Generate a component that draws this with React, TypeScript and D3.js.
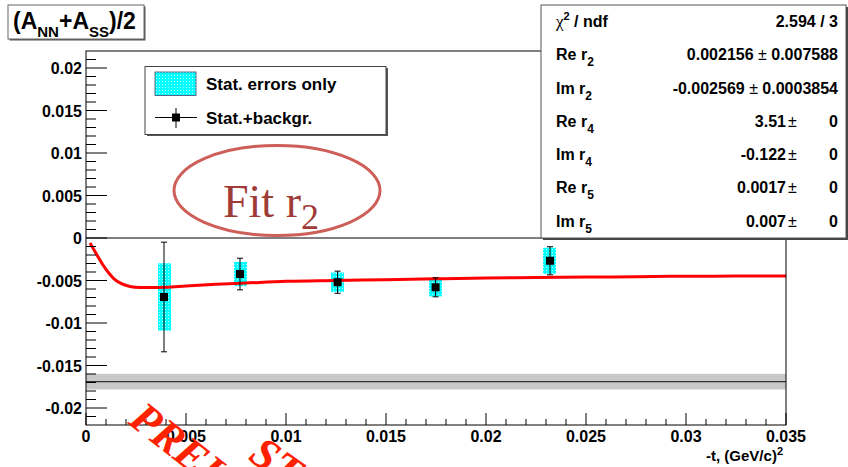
import React from "react";
import * as d3 from "d3";

// Measured points: -t (GeV/c)^2, asymmetry, statistical error, stat+background error
const pointT = [0.0039, 0.0077, 0.01258, 0.01748, 0.0232];
const pointA = [-0.00694, -0.00424, -0.0052, -0.0058, -0.00268];
const statErr = [0.00396, 0.00143, 0.00114, 0.00107, 0.00153];
const totalErr = [0.00645, 0.00186, 0.0013, 0.00112, 0.00165];

// Fitted curve samples
const curveT = [0.0002, 0.0005, 0.0008, 0.0011, 0.0014, 0.0018, 0.0022, 0.0027, 0.0033, 0.004, 0.005, 0.0065, 0.008, 0.01, 0.0125, 0.015, 0.0175, 0.02, 0.0225, 0.025, 0.0275, 0.03, 0.0325, 0.035];
const curveA = [-0.0006, -0.0018, -0.003, -0.004, -0.0048, -0.0054, -0.0057, -0.00582, -0.00583, -0.0058, -0.00565, -0.00545, -0.0053, -0.0051, -0.005, -0.0049, -0.0048, -0.0047, -0.00465, -0.0046, -0.00455, -0.0045, -0.00448, -0.00446];

// Horizontal reference band
const bandCenter = -0.0169;
const bandHalf = 0.00092;

// Axis ticks
const xTickValues = [0, 0.005, 0.01, 0.015, 0.02, 0.025, 0.03, 0.035];
const xTickLabels = ["0", "0.005", "0.01", "0.015", "0.02", "0.025", "0.03", "0.035"];
const yTickValues = [0.02, 0.015, 0.01, 0.005, 0, -0.005, -0.01, -0.015, -0.02];
const yTickLabels = ["0.02", "0.015", "0.01", "0.005", "0", "-0.005", "-0.01", "-0.015", "-0.02"];

// Fit parameters box
const statNames = ["Re r", "Im r", "Re r", "Im r", "Re r", "Im r"];
const statSubs = ["2", "2", "4", "4", "5", "5"];
const statValues = ["0.002156", "-0.002569", "3.51", "-0.122", "0.0017", "0.007"];
const statErrors = ["0.007588", "0.0003854", "0", "0", "0", "0"];
const chi2Text = "2.594 / 3";

const W = 848;
const H = 467;
const L = 86, R = 786, T = 51, B = 425;
const SANS = "'Liberation Sans', Arial, Helvetica, sans-serif";
const SERIF = "'Liberation Serif', 'Times New Roman', serif";

export default function App() {
  const x = d3.scaleLinear().domain([0, 0.035]).range([L, R]);
  const y = d3.scaleLinear().domain([-0.022, 0.022]).range([B, T]);

  const curvePath = d3
    .line<number>()
    .x((_, i) => x(curveT[i]))
    .y((d) => y(d))
    .curve(d3.curveMonotoneX)(curveA) as string;

  const xMinor = d3.range(0, 35.5, 1).map((v) => v / 1000);
  const yMinor = d3.range(-21, 21.5, 1).map((v) => v / 1000);

  const boxW = 13;
  const mk = 8;

  const statX = 541, statY = 5, statR = 846, statB = 238;
  const rowH = (statB - statY) / 7;

  return (
    <svg
      width={W}
      height={H}
      viewBox={`0 0 ${W} ${H}`}
      style={{ position: "absolute", left: 0, top: 0, background: "#fff" }}
    >
      <defs>
        <pattern id="cyanDots" width="3" height="3" patternUnits="userSpaceOnUse">
          <rect width="3" height="3" fill="#00ffff" />
          <rect width="1" height="1" fill="#b8ffff" />
        </pattern>
      </defs>
      <rect width={W} height={H} fill="#fff" />

      {/* reference band */}
      <rect x={L} y={y(bandCenter + bandHalf)} width={R - L} height={y(bandCenter - bandHalf) - y(bandCenter + bandHalf)} fill="#c8c8c8" />
      <line x1={L} x2={R} y1={y(bandCenter)} y2={y(bandCenter)} stroke="#333" strokeWidth={1.2} />

      {/* zero line */}
      <line x1={L} x2={R} y1={y(0)} y2={y(0)} stroke="#000" strokeWidth={1} />

      {/* statistical error boxes */}
      {pointT.map((t, i) => (
        <rect
          key={"s" + i}
          x={Math.round(x(t) - boxW / 2)}
          y={y(pointA[i] + statErr[i])}
          width={boxW}
          height={y(pointA[i] - statErr[i]) - y(pointA[i] + statErr[i])}
          fill="url(#cyanDots)"
        />
      ))}

      {/* fit curve */}
      <path d={curvePath} fill="none" stroke="#ff0000" strokeWidth={3} />

      {/* total error bars and markers */}
      {pointT.map((t, i) => {
        const cx = x(t);
        const y1 = y(pointA[i] + totalErr[i]);
        const y2 = y(pointA[i] - totalErr[i]);
        return (
          <g key={"p" + i}>
            <line x1={cx} x2={cx} y1={y1} y2={y2} stroke="#000" strokeWidth={1} />
            <line x1={cx - 3} x2={cx + 3} y1={y1} y2={y1} stroke="#000" strokeWidth={1} />
            <line x1={cx - 3} x2={cx + 3} y1={y2} y2={y2} stroke="#000" strokeWidth={1} />
            <rect x={cx - mk / 2} y={y(pointA[i]) - mk / 2} width={mk} height={mk} fill="#000" />
          </g>
        );
      })}

      {/* frame */}
      <rect x={L} y={T} width={R - L} height={B - T} fill="none" stroke="#000" strokeWidth={1} />

      {/* x axis ticks */}
      {xMinor.map((v, i) => {
        const major = Math.abs(v * 1000 - Math.round(v * 200) * 5) < 1e-6;
        return (
          <line key={"xt" + i} x1={x(v)} x2={x(v)} y1={B} y2={B - (major ? 12 : 6)} stroke="#000" strokeWidth={1} />
        );
      })}
      {xTickValues.map((v, i) => (
        <text key={"xl" + i} x={x(v)} y={442} textAnchor="middle" fontFamily={SANS} fontWeight="bold" fontSize={16} fill="#000">
          {xTickLabels[i]}
        </text>
      ))}
      <text x={783} y={461} textAnchor="end" fontFamily={SANS} fontWeight="bold" fontSize={15} fill="#000">
        -t, (GeV/c)
        <tspan fontSize={11} dy={-6}>2</tspan>
      </text>

      {/* y axis ticks */}
      {yMinor.map((v, i) => {
        const major = Math.abs(v * 1000 - Math.round(v * 200) * 5) < 1e-6;
        return (
          <line key={"yt" + i} x1={L} x2={L + (major ? 21 : 10)} y1={y(v)} y2={y(v)} stroke="#000" strokeWidth={1} />
        );
      })}
      {yTickValues.map((v, i) => (
        <text key={"yl" + i} x={82} y={y(v) + 6} textAnchor="end" fontFamily={SANS} fontWeight="bold" fontSize={16} fill="#000">
          {yTickLabels[i]}
        </text>
      ))}

      {/* legend */}
      <rect x={147} y={68} width={241} height={68} fill="#555" />
      <rect x={145} y={66.5} width={241} height={68} fill="#fff" stroke="#444" strokeWidth={1} />
      <rect x={155} y={72} width={41} height={23.5} fill="url(#cyanDots)" stroke="#446" strokeWidth={0.8} />
      <text x={206} y={90} fontFamily={SANS} fontWeight="bold" fontSize={17} fill="#000">
        Stat. errors only
      </text>
      <line x1={155} x2={197} y1={117.5} y2={117.5} stroke="#000" strokeWidth={1} />
      <line x1={176} x2={176} y1={108} y2={128} stroke="#000" strokeWidth={1} />
      <rect x={176 - mk / 2} y={117.5 - mk / 2} width={mk} height={mk} fill="#000" />
      <text x={206} y={123.5} fontFamily={SANS} fontWeight="bold" fontSize={17} fill="#000">
        Stat.+backgr.
      </text>

      {/* fit parameters box */}
      <rect x={statX + 2} y={statY + 2} width={statR - statX} height={statB - statY} fill="#444" />
      <rect x={statX} y={statY} width={statR - statX} height={statB - statY} fill="#fff" stroke="#555" strokeWidth={1} />
      <text x={556} y={statY + 22} fontFamily={SANS} fontWeight="bold" fontSize={16} fill="#000">
        <tspan fontFamily={SERIF} fontWeight="normal" fontSize={17}>χ</tspan>
        <tspan fontSize={11} dy={-7}>2</tspan>
        <tspan dy={7}> / ndf</tspan>
      </text>
      <text x={838} y={statY + 22} textAnchor="end" fontFamily={SANS} fontWeight="bold" fontSize={16} fill="#000">
        {chi2Text}
      </text>
      {statNames.map((n, i) => {
        const by = statY + rowH * (i + 1) + 22;
        const zeroErr = statErrors[i] === "0";
        return (
          <g key={"st" + i}>
            <text x={556} y={by} fontFamily={SANS} fontWeight="bold" fontSize={16} fill="#000">
              {n}
              <tspan fontSize={12} dy={6}>{statSubs[i]}</tspan>
            </text>
            {zeroErr ? (
              <>
                <text x={786} y={by} textAnchor="end" fontFamily={SANS} fontWeight="bold" fontSize={16} fill="#000">
                  {statValues[i]}
                </text>
                <text x={788} y={by} fontFamily={SANS} fontSize={16} fill="#000">±</text>
                <text x={838} y={by} textAnchor="end" fontFamily={SANS} fontWeight="bold" fontSize={16} fill="#000">
                  {statErrors[i]}
                </text>
              </>
            ) : (
              <text x={838} y={by} textAnchor="end" fontFamily={SANS} fontWeight="bold" fontSize={16} fill="#000">
                {statValues[i]}
                <tspan fontWeight="normal">{" ± "}</tspan>
                {statErrors[i]}
              </text>
            )}
          </g>
        );
      })}

      {/* title */}
      <rect x={9.5} y={6.5} width={136} height={34} fill="#555" />
      <rect x={8} y={5} width={136} height={34} fill="#fff" stroke="#666" strokeWidth={1} />
      <text x={13} y={28.5} fontFamily={SANS} fontWeight="bold" fontSize={23} fill="#000">
        (A
        <tspan fontSize={15} dy={8}>NN</tspan>
        <tspan dy={-8}>+A</tspan>
        <tspan fontSize={15} dy={8}>SS</tspan>
        <tspan dy={-8}>)/2</tspan>
      </text>

      {/* fit annotation */}
      <ellipse cx={277} cy={190.5} rx={103} ry={45} fill="none" stroke="#cd5e58" strokeWidth={3} />
      <text x={223} y={217} fontFamily={SERIF} fontSize={46} fill="#9e3b37">
        Fit r
        <tspan fontSize={36} dy={12}>2</tspan>
      </text>

      {/* preliminary stamp */}
      <text
        transform="translate(127,423) rotate(38)"
        fontFamily={SERIF}
        fontWeight="bold"
        fontStyle="italic"
        fontSize={44}
        fill="#ff2200"
      >
        PRELIMINARY
      </text>
      <text
        transform="translate(247,459) rotate(35)"
        fontFamily={SERIF}
        fontWeight="bold"
        fontStyle="italic"
        fontSize={44}
        fill="#ff2200"
      >
        STAR
      </text>
    </svg>
  );
}
